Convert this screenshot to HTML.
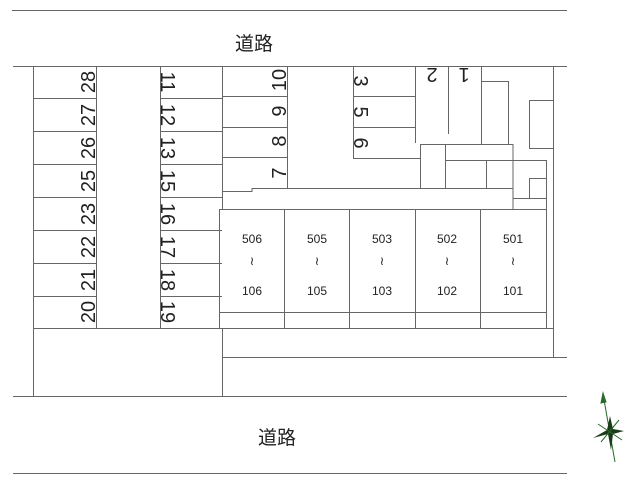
<!DOCTYPE html>
<html><head><meta charset="utf-8"><style>
html,body{margin:0;padding:0;background:#fff;width:640px;height:481px;overflow:hidden}
svg{display:block}
text{font-family:"Liberation Sans","Noto Sans CJK JP",sans-serif;fill:#222}
</style></head><body>
<svg width="640" height="481" viewBox="0 0 640 481" xmlns="http://www.w3.org/2000/svg">
<g stroke="#666" stroke-width="1" fill="none">
<line x1="12" y1="10.5" x2="567" y2="10.5"/>
<line x1="13" y1="66.5" x2="567" y2="66.5"/>
<line x1="13" y1="396.5" x2="567" y2="396.5"/>
<line x1="13" y1="473.5" x2="567" y2="473.5"/>
<line x1="33.5" y1="66" x2="33.5" y2="396"/>
<line x1="96.5" y1="66" x2="96.5" y2="328"/>
<line x1="160.5" y1="66" x2="160.5" y2="328"/>
<line x1="222.5" y1="66" x2="222.5" y2="209"/>
<line x1="222.5" y1="328" x2="222.5" y2="396"/>
<line x1="33" y1="328.5" x2="553" y2="328.5"/>
<line x1="222" y1="357.5" x2="567" y2="357.5"/>
<g>
<line x1="33" y1="98.5" x2="96" y2="98.5"/><line x1="33" y1="131.5" x2="96" y2="131.5"/>
<line x1="33" y1="164.5" x2="96" y2="164.5"/><line x1="33" y1="197.5" x2="96" y2="197.5"/>
<line x1="33" y1="230.5" x2="96" y2="230.5"/><line x1="33" y1="263.5" x2="96" y2="263.5"/>
<line x1="33" y1="296.5" x2="96" y2="296.5"/>
<line x1="160" y1="98.5" x2="222" y2="98.5"/><line x1="160" y1="131.5" x2="222" y2="131.5"/>
<line x1="160" y1="164.5" x2="222" y2="164.5"/><line x1="160" y1="197.5" x2="222" y2="197.5"/>
<line x1="160" y1="230.5" x2="222" y2="230.5"/><line x1="160" y1="263.5" x2="222" y2="263.5"/>
<line x1="160" y1="296.5" x2="222" y2="296.5"/>
</g>
<line x1="287.5" y1="66" x2="287.5" y2="188"/>
<line x1="222" y1="96.5" x2="287" y2="96.5"/>
<line x1="222" y1="127.5" x2="287" y2="127.5"/>
<line x1="222" y1="157.5" x2="287" y2="157.5"/>
<polyline points="222,191.5 252,191.5 252,188.5 513,188.5"/>
<line x1="353.5" y1="66" x2="353.5" y2="158"/>
<line x1="353" y1="96.5" x2="415" y2="96.5"/>
<line x1="353" y1="127.5" x2="415" y2="127.5"/>
<line x1="353" y1="158.5" x2="420" y2="158.5"/>
<line x1="415.5" y1="66" x2="415.5" y2="143"/>
<line x1="448.5" y1="66" x2="448.5" y2="134"/>
<line x1="481.5" y1="66" x2="481.5" y2="144"/>
<polyline points="481,81.5 508.5,81.5 508.5,144"/>
<polyline points="553,100.5 529.5,100.5 529.5,148.5 553,148.5"/>
<line x1="553.5" y1="66" x2="553.5" y2="357"/>
<rect x="420.5" y="144.5" width="92.5" height="44"/>
<line x1="445.5" y1="144" x2="445.5" y2="188"/>
<line x1="445" y1="160.5" x2="546" y2="160.5"/>
<line x1="486.5" y1="160" x2="486.5" y2="188"/>
<line x1="513" y1="188" x2="513" y2="209"/>
<line x1="546.5" y1="160" x2="546.5" y2="328"/>
<line x1="513" y1="198.5" x2="546" y2="198.5"/>
<polyline points="529.5,198 529.5,178.5 546,178.5"/>
<rect x="219.5" y="209.5" width="327" height="119"/>
<line x1="219" y1="312.5" x2="546" y2="312.5"/>
<line x1="284.5" y1="209" x2="284.5" y2="328"/>
<line x1="349.5" y1="209" x2="349.5" y2="328"/>
<line x1="415.5" y1="209" x2="415.5" y2="328"/>
<line x1="480.5" y1="209" x2="480.5" y2="328"/>
</g>
<text x="254" y="50" font-size="19" text-anchor="middle">道路</text>
<text x="277" y="444" font-size="19" text-anchor="middle">道路</text>
<g font-size="20" text-anchor="middle">
<text transform="translate(95,82) rotate(-90)">28</text>
<text transform="translate(95,115) rotate(-90)">27</text>
<text transform="translate(95,148) rotate(-90)">26</text>
<text transform="translate(95,181) rotate(-90)">25</text>
<text transform="translate(95,214) rotate(-90)">23</text>
<text transform="translate(95,247) rotate(-90)">22</text>
<text transform="translate(95,280) rotate(-90)">21</text>
<text transform="translate(95,312) rotate(-90)">20</text>
<text transform="translate(161,82) rotate(90)">11</text>
<text transform="translate(161,115) rotate(90)">12</text>
<text transform="translate(161,148) rotate(90)">13</text>
<text transform="translate(161,181) rotate(90)">15</text>
<text transform="translate(161,214) rotate(90)">16</text>
<text transform="translate(161,247) rotate(90)">17</text>
<text transform="translate(161,280) rotate(90)">18</text>
<text transform="translate(161,312) rotate(90)">19</text>
<text transform="translate(286,80) rotate(-90)">10</text>
<text transform="translate(286,111) rotate(-90)">9</text>
<text transform="translate(286,141) rotate(-90)">8</text>
<text transform="translate(286,173) rotate(-90)">7</text>
<text transform="translate(354,81) rotate(90)">3</text>
<text transform="translate(354,112) rotate(90)">5</text>
<text transform="translate(354,143) rotate(90)">6</text>
<text transform="translate(432,68) rotate(180)">2</text>
<text transform="translate(464,68) rotate(180)">1</text>
</g>
<g font-size="12" text-anchor="middle">
<text x="252" y="243">506</text><text x="252" y="265">≀</text><text x="252" y="295">106</text>
<text x="317" y="243">505</text><text x="317" y="265">≀</text><text x="317" y="295">105</text>
<text x="382" y="243">503</text><text x="382" y="265">≀</text><text x="382" y="295">103</text>
<text x="447" y="243">502</text><text x="447" y="265">≀</text><text x="447" y="295">102</text>
<text x="513" y="243">501</text><text x="513" y="265">≀</text><text x="513" y="295">101</text>
</g>
<g stroke="#2a6a2a" fill="#2a6a2a">
<line x1="603" y1="394" x2="615" y2="462" stroke-width="1"/>
<polygon points="603,393 601,403 606,402"/>
<polygon points="610,416 613,429 624,431 613,434 611,450 608,434 593,438 607,430" fill="#1a3a1a" stroke="none"/>
<line x1="598" y1="424" x2="622" y2="440" stroke-width="1"/>
<line x1="601" y1="442" x2="619" y2="420" stroke-width="1"/>
</g>
</svg>
</body></html>
